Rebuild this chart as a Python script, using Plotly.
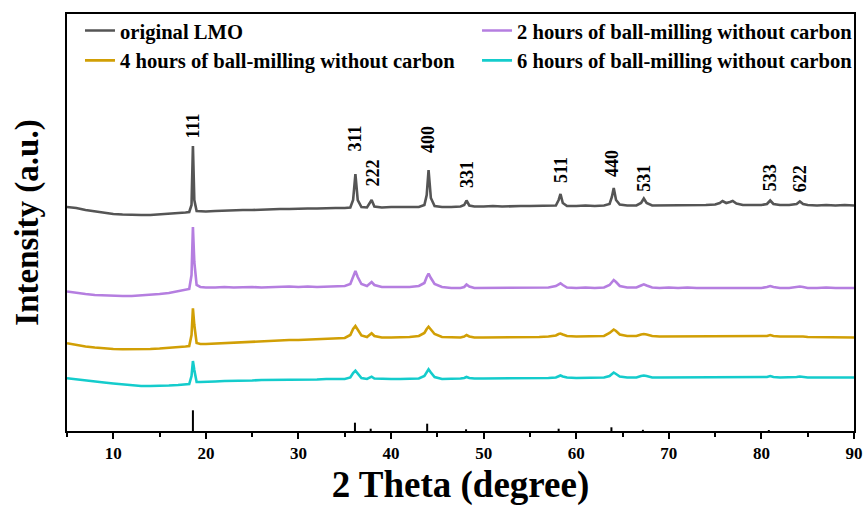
import plotly.graph_objects as go

# 2 theta grid (degree)
two_theta = [5, 6, 7, 8, 9, 10, 11, 12, 13, 14, 15, 16, 17, 17.8, 18.2, 18.45, 18.6, 18.75, 19.0, 19.4,
             20, 21, 22, 23, 24, 25, 26, 27, 28, 29, 30, 31, 32, 33, 34, 35, 35.6, 35.9, 36.15, 36.4,
             36.8, 37.4, 37.65, 37.9, 38.2, 39, 40, 41, 42, 43, 43.6, 43.85, 44.05, 44.3, 44.7, 45.5,
             46.5, 47.5, 47.9, 48.15, 48.45, 49, 50, 51, 52, 53, 54, 55, 56, 57, 57.8, 58.1, 58.3, 58.55,
             59, 60, 61, 62, 63, 63.6, 63.85, 64.05, 64.3, 64.7, 65.5, 66.5, 67.0, 67.3, 67.6, 68.2,
             69, 70, 71, 72, 73, 74, 75, 75.5, 75.8, 76.2, 76.6, 76.9, 77.3, 78, 79, 80, 80.6, 80.95,
             81.3, 82, 83, 83.8, 84.15, 84.5, 85, 86, 87, 88, 89, 90]

original_lmo = [224, 223, 221, 219.5, 218, 217, 216.5, 216, 216, 216, 216.5, 217, 218, 218.5, 219, 226, 285, 231, 220, 219.5,
                219.5, 220, 220.5, 220.5, 221, 221, 221.5, 221.5, 222, 222, 222.5, 222.5, 222.5, 223, 223, 223, 223.5, 231, 257, 231,
                224, 223.5, 227, 231, 224.5, 223.5, 224, 224, 224, 224, 226, 236, 261, 233, 225, 224,
                224, 224.5, 226, 230.5, 225.5, 224.5, 224.5, 225, 224.5, 225, 225, 225, 225, 225, 225.5, 231, 237, 228,
                225, 225, 225.5, 225, 225.5, 227, 234, 243, 231, 226.5, 225.5, 225.5, 228, 232.5, 228, 225.5,
                225.5, 225.5, 226, 225.5, 226, 226, 226.5, 228, 230, 228, 229, 230, 227.5, 226, 226, 226, 227, 230.5,
                227, 226, 226, 227, 229.5, 227, 226, 225.5, 226, 225.5, 226, 225.5]

milled_2h = [139.5, 138, 137, 136, 135.5, 135, 135, 135, 135.5, 136, 137, 138, 139.5, 141, 142, 156, 204, 169, 146, 144,
             143.5, 143.5, 144, 143.5, 144, 144, 143.5, 144, 144, 144.5, 144, 144.5, 144, 144.5, 144.5, 145, 147, 155, 160, 154,
             147, 145, 147, 149, 146, 144, 144, 144, 144, 145, 148, 154, 157.5, 153, 147, 144,
             143, 143, 144, 146.5, 144.5, 143, 143, 143.5, 143, 143, 143.5, 143, 143, 143.5, 145, 147, 147.7, 146,
             143.5, 143, 143.5, 143, 143.5, 146, 149.5, 151, 149, 145, 143.5, 143.5, 145.5, 146.7, 145.5, 143.5,
             143, 143.5, 143, 143.5, 143, 143, 143.5, 143.5, 143.5, 143, 143.5, 143.5, 143, 143, 143.5, 143, 144, 145,
             144, 143, 143, 144, 144.5, 144, 143, 143, 143.5, 143, 143, 143]

milled_4h = [87.7, 86, 84.5, 83.5, 82.5, 82, 81.7, 81.7, 82, 82, 82.5, 83, 84, 84.5, 85, 96, 122.7, 106, 88, 87,
             87, 87.5, 88, 88.5, 89, 89.5, 90, 90, 90.5, 91, 91, 91.5, 91.5, 92, 92.5, 93, 96, 102, 105, 101,
             95.5, 94, 96, 97.7, 95, 93.5, 93.5, 93.5, 94, 95, 98, 102, 104.3, 101.5, 97, 94,
             93.5, 93.5, 94.5, 96, 94.5, 93.5, 93.5, 93.5, 93.5, 94, 93.5, 94, 94, 94.5, 95.5, 97, 97.5, 96.5,
             95, 94.5, 94.5, 94.5, 95, 98, 100.5, 101.5, 100, 96.5, 95, 95, 96.5, 97, 96.5, 95,
             94.5, 94.5, 94.5, 94.5, 94.5, 94.5, 94.5, 94.5, 95, 94.5, 95, 95, 94.5, 94.5, 94.5, 94.5, 95, 96,
             95, 94.5, 94.5, 94.5, 95, 94.5, 94, 94, 93.5, 93.5, 93.5, 93.5]

milled_6h = [52.7, 51.5, 50.5, 49.5, 48.5, 47.5, 46.5, 45.5, 45, 45, 45, 45.5, 46, 46.5, 47, 55, 70, 61, 49, 49,
             49, 49.5, 50, 50, 50.5, 50.5, 51, 51, 51, 51.5, 51.5, 51.5, 51.5, 52, 52, 52, 53.5, 58, 60.3, 57,
             53, 52, 53, 54.3, 52.5, 52, 52, 52, 52, 52.5, 55, 59, 61.7, 58.5, 54, 52,
             52, 52.5, 53, 54, 53, 52.5, 52.5, 52.5, 52.5, 52.5, 53, 53, 53, 53, 53.5, 55, 55.5, 54.5,
             53.5, 53, 53, 53, 53.5, 55, 57.5, 58.5, 57, 54.5, 53.5, 53.5, 55, 55.5, 55, 53.5,
             53.5, 53.5, 53.5, 53.5, 53.5, 53.5, 53.5, 53.5, 53.5, 53.5, 53.5, 53.5, 53.5, 53.5, 53.5, 53.5, 54, 55,
             54, 53.5, 53.5, 54, 54.5, 54, 53.5, 53.5, 53.5, 53.5, 53.5, 53.5]

series_names = ["original LMO", "2 hours of ball-milling without carbon",
                "4 hours of ball-milling without carbon", "6 hours of ball-milling without carbon"]
series_values = [original_lmo, milled_2h, milled_4h, milled_6h]
series_colors = ["#555555", "#b57ee0", "#d19f05", "#14cccc"]
series_legend = ["legend", "legend2", "legend", "legend2"]

# standard reference pattern (stick lines)
ref_positions = [18.6, 36.1, 37.8, 43.9, 48.1, 58.1, 63.8, 67.2, 80.8]
ref_heights = [20.7, 8.3, 2.3, 7.3, 1.7, 2.3, 3.7, 1.2, 1.0]

# hkl peak labels
peak_labels = ["111", "311", "222", "400", "331", "511", "440", "531", "533", "622"]
peak_label_x = [18.6, 36.0, 37.95, 43.98, 48.2, 58.35, 63.85, 67.3, 80.9, 84.2]
peak_label_y = [305.5, 292.5, 257.5, 292, 257, 261, 268, 253, 253.5, 252]

FONT = "Liberation Serif"
legend_font = dict(family=FONT, size=20.6, color="black", weight="bold")

fig = go.Figure()
for name, vals, col, lg in zip(series_names, series_values, series_colors, series_legend):
    fig.add_trace(go.Scatter(x=two_theta, y=vals, mode="lines", name=name, legend=lg,
                             line=dict(color=col, width=2.6)))

stick_x, stick_y = [], []
for p, h in zip(ref_positions, ref_heights):
    stick_x += [p, p, None]
    stick_y += [0, h, None]
fig.add_trace(go.Scatter(x=stick_x, y=stick_y, mode="lines", showlegend=False,
                         line=dict(color="black", width=2)))

for lab, lx, ly in zip(peak_labels, peak_label_x, peak_label_y):
    fig.add_annotation(x=lx, y=ly, text=lab, textangle=-90, showarrow=False,
                       xanchor="center", yanchor="middle",
                       font=dict(family=FONT, size=18, color="black", weight="bold"))

fig.update_layout(
    width=863, height=506,
    margin=dict(l=67, r=9, t=14, b=75, autoexpand=False),
    plot_bgcolor="white", paper_bgcolor="white",
    font=dict(family=FONT, color="black"),
    legend=dict(orientation="v", x=0.0165, y=1.008, xanchor="left", yanchor="top",
                font=legend_font, bgcolor="rgba(0,0,0,0)", tracegroupgap=0, itemwidth=30),
    legend2=dict(orientation="v", x=0.521, y=1.008, xanchor="left", yanchor="top",
                 font=legend_font, bgcolor="rgba(0,0,0,0)", tracegroupgap=0, itemwidth=30),
    xaxis=dict(range=[5, 90], showline=True, linecolor="black", linewidth=1.5, mirror=True,
               ticks="outside", ticklen=6, tickwidth=1.5, tickcolor="black",
               tickvals=[10, 20, 30, 40, 50, 60, 70, 80, 90],
               minor=dict(tickvals=[5, 15, 25, 35, 45, 55, 65, 75, 85], ticks="outside", ticklen=4, tickwidth=1.5, tickcolor="black"),
               showgrid=False, zeroline=False,
               tickfont=dict(family=FONT, size=17, color="black", weight="bold"),
               title=dict(text="2 Theta (degree)", standoff=19,
                          font=dict(family=FONT, size=37, color="black", weight="bold"))),
    yaxis=dict(range=[0, 417], showline=True, linecolor="black", linewidth=1.5, mirror=True,
               ticks="", showticklabels=False, showgrid=False, zeroline=False,
               title=dict(text="Intensity (a.u.)", standoff=17,
                          font=dict(family=FONT, size=33, color="black", weight="bold"))),
)

fig.write_html("out.html")
